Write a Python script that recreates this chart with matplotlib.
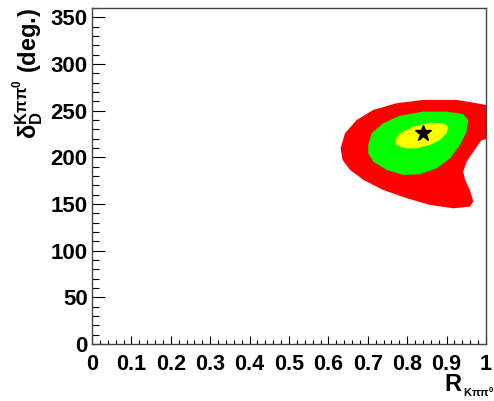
import numpy as np
import matplotlib
matplotlib.use('Agg')
import matplotlib.pyplot as plt
from matplotlib.ticker import MultipleLocator

plt.rcParams['font.family'] = ['Liberation Sans', 'DejaVu Sans']
plt.rcParams['font.weight'] = 'bold'
plt.rcParams['mathtext.fontset'] = 'custom'
plt.rcParams['mathtext.rm'] = 'Liberation Sans:bold'
plt.rcParams['mathtext.bf'] = 'Liberation Sans:bold'
plt.rcParams['mathtext.it'] = 'Liberation Sans:bold'

# 3 sigma contour (red), R_Kpipi0 vs delta_D
red_R = [0.631, 0.642, 0.672, 0.714, 0.773, 0.841, 0.926, 0.976, 1.02, 1.02,
         0.989, 0.968, 0.951, 0.942, 0.947, 0.959, 0.968, 0.959, 0.917, 0.858,
         0.799, 0.739, 0.689, 0.655, 0.636]
red_d = [209.8, 225.8, 240.1, 250.8, 258.0, 261.5, 261.5, 258.0, 254.3, 220.5,
         218.6, 206.1, 195.4, 184.7, 175.8, 165.1, 152.5, 147.2, 145.4, 149.0,
         156.2, 165.1, 175.8, 186.5, 197.2]

# 2 sigma contour (green)
green_R = [0.701, 0.710, 0.739, 0.782, 0.841, 0.900, 0.942, 0.955, 0.951, 0.934,
           0.909, 0.875, 0.832, 0.790, 0.748, 0.714, 0.701]
green_d = [213.3, 225.8, 236.5, 244.7, 249.0, 249.0, 246.2, 240.1, 227.5, 213.3,
           199.0, 188.3, 181.9, 181.1, 186.5, 195.4, 204.4]

# 1 sigma contour (yellow)
yellow_R = [0.769, 0.782, 0.815, 0.858, 0.892, 0.904, 0.900, 0.883, 0.858, 0.824,
            0.794, 0.773]
yellow_d = [218.6, 225.8, 232.9, 237.2, 236.5, 232.9, 225.8, 218.6, 213.3, 209.7,
            209.7, 213.3]

# best fit point
best_R = [0.841]
best_d = [225.8]

xtick_labels = ['0', '0.1', '0.2', '0.3', '0.4', '0.5', '0.6', '0.7', '0.8', '0.9', '1']

fig = plt.figure(figsize=(4.94, 4.01), dpi=100)
ax = fig.add_axes([92/494, 57/401, 394/494, 336/401])

ax.fill(red_R, red_d, color='#ff0000', lw=0)
ax.fill(green_R, green_d, color='#00ff00', lw=0)
ax.fill(yellow_R, yellow_d, color='#ffff00', lw=0)
ax.plot(best_R, best_d, marker='*', color='black', ms=12, ls='none')

ax.set_xlim(0, 1)
ax.set_ylim(0, 360)

ax.xaxis.set_minor_locator(MultipleLocator(0.02))
ax.yaxis.set_minor_locator(MultipleLocator(10))
ax.set_xticks(np.arange(0, 1.01, 0.1))
ax.set_xticklabels(xtick_labels)
ax.set_yticks(np.arange(0, 351, 50))

ax.tick_params(axis='both', which='both', direction='in', top=False, right=False, width=0.8)
ax.tick_params(axis='x', which='major', length=6, pad=7, labelsize=15.5)
ax.tick_params(axis='x', which='minor', length=3)
ax.tick_params(axis='y', which='major', length=9.5, pad=3, labelsize=16)
ax.tick_params(axis='y', which='minor', length=5)
for lab in ax.get_xticklabels() + ax.get_yticklabels():
    lab.set_fontweight('bold')
for s in ax.spines.values():
    s.set_color('#444444')
    s.set_linewidth(1.0)

# x title: big R with small subscript
fig.text(461/494, 1 - 391/401, 'R', ha='right', va='baseline', fontsize=17, fontweight='bold')
fig.text(463/494, 1 - 397/401, r'K$\mathregular{\pi\pi^0}$', ha='left', va='baseline',
         fontsize=8, fontweight='bold')
fig.text(28/494, 1 - 8/401, r'$\mathregular{\delta}_{\mathregular{D}}^{\mathregular{K\pi\pi^0}}$ (deg.)',
         ha='center', va='top', rotation=90, fontsize=17, fontweight='bold')

fig.savefig('out.png', dpi=100)
